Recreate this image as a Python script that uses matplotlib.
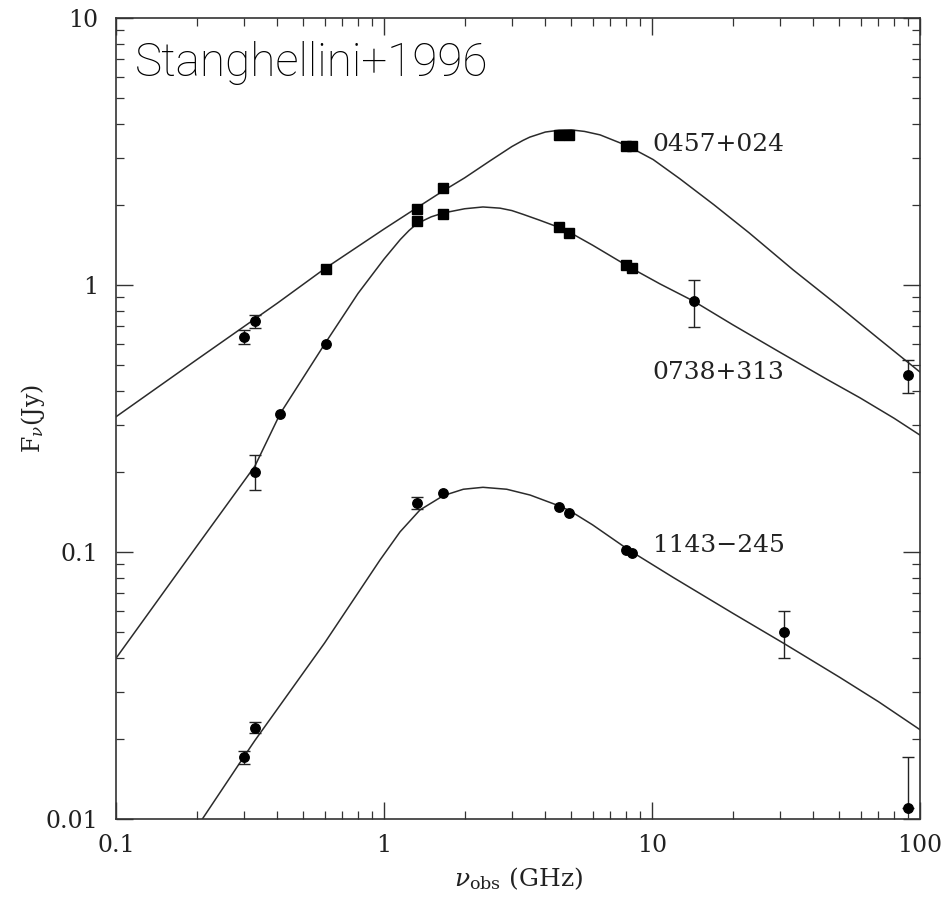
import matplotlib
matplotlib.use("Agg")
import matplotlib.pyplot as plt
from matplotlib.ticker import LogLocator, NullFormatter, FixedLocator, FixedFormatter
import numpy as np

# ---------------- data ----------------
# 0457+024
f0457 = [0.30, 0.33, 0.61, 1.33, 1.66, 4.5, 4.9, 8.0, 8.4, 90]
s0457 = [0.64, 0.73, 1.15, 1.93, 2.31, 3.65, 3.65, 3.33, 3.33, 0.46]
e0457 = [0.04, 0.04, 0.0, 0.0, 0.0, 0.0, 0.0, 0.0, 0.0, 0.065]
sq0457 = [False, False, True, True, True, True, True, True, True, False]

# 0738+313
f0738 = [0.33, 0.41, 0.61, 1.33, 1.66, 4.5, 4.9, 8.0, 8.4, 14.3]
s0738 = [0.20, 0.33, 0.60, 1.74, 1.85, 1.65, 1.57, 1.19, 1.16, 0.87]
e0738 = [0.03, 0.0, 0.0, 0.0, 0.0, 0.0, 0.0, 0.0, 0.0, 0.175]
sq0738 = [False, False, False, True, True, True, True, True, True, False]

# 1143-245
f1143 = [0.30, 0.33, 1.33, 1.66, 4.5, 4.9, 8.0, 8.4, 31, 90]
s1143 = [0.017, 0.022, 0.153, 0.166, 0.148, 0.140, 0.102, 0.099, 0.050, 0.011]
e1143_lo = [0.001, 0.001, 0.008, 0.0, 0.0, 0.0, 0.0, 0.0, 0.010, 0.0]
e1143_hi = [0.001, 0.001, 0.008, 0.0, 0.0, 0.0, 0.0, 0.0, 0.010, 0.006]

# fitted curves
cx0457 = [0.1, 0.2, 0.4, 0.6, 1.0, 1.33, 1.66, 2.0, 2.49, 3.0, 3.3, 3.5, 4.0, 4.5, 5.0,
          5.6, 6.4, 8.1, 10.1, 12.7, 17, 23, 33.6, 50, 70, 100]
cy0457 = [0.321, 0.525, 0.855, 1.15, 1.62, 1.95, 2.25, 2.52, 2.92, 3.30, 3.48, 3.58,
          3.74, 3.80, 3.81, 3.76, 3.65, 3.32, 2.95, 2.50, 2.00, 1.57, 1.14, 0.83, 0.63,
          0.472]

cx0738 = [0.1, 0.2, 0.33, 0.41, 0.6, 0.8, 1.0, 1.15, 1.24, 1.33, 1.5, 1.66, 2.0, 2.34,
          2.71, 3.0, 3.3, 3.8, 4.45, 4.9, 6.0, 8.2, 10.7, 14.3, 20, 30, 45, 59.7, 80, 100]
cy0738 = [0.040, 0.105, 0.21, 0.33, 0.60, 0.93, 1.25, 1.48, 1.60, 1.70, 1.80, 1.86,
          1.93, 1.96, 1.94, 1.90, 1.84, 1.75, 1.65, 1.58, 1.41, 1.17, 1.01, 0.87,
          0.71, 0.56, 0.443, 0.378, 0.317, 0.274]

cx1143 = [0.21, 0.3, 0.33, 0.6, 0.966, 1.148, 1.362, 1.665, 1.977, 2.34, 2.87, 3.51,
          4.41, 4.92, 6.0, 8.2, 12, 20, 31, 50, 70, 100]
cy1143 = [0.010, 0.0171, 0.0197, 0.0456, 0.0933, 0.119, 0.1437, 0.1626, 0.1718,
          0.1747, 0.1718, 0.1634, 0.150, 0.143, 0.1264, 0.1017, 0.0803, 0.059, 0.0455,
          0.034, 0.0275, 0.0216]

names = ["0457+024", "0738+313", "1143\u2212245"]
label_x = [10.0, 10.0, 10.1]
label_y = [3.35, 0.472, 0.106]

# ---------------- figure ----------------
plt.rcParams['mathtext.fontset'] = 'dejavuserif'
fig = plt.figure(figsize=(9.45, 8.97), dpi=100)
ax = fig.add_axes([116/945, 1-819/897, 804/945, 801/897])
ax.set_xscale('log')
ax.set_yscale('log')
ax.set_xlim(0.1, 100)
ax.set_ylim(0.01, 10)

lc = '#2b2b2b'
for cx, cy in [(cx0457, cy0457), (cx0738, cy0738), (cx1143, cy1143)]:
    ax.plot(cx, cy, color=lc, lw=1.1, zorder=2, solid_joinstyle='round')

def draw_points(f, s, elo, ehi, sq):
    f = np.asarray(f); s = np.asarray(s)
    elo = np.asarray(elo); ehi = np.asarray(ehi)
    has = (elo > 0) | (ehi > 0)
    if has.any():
        ax.errorbar(f[has], s[has], yerr=[elo[has], ehi[has]], fmt='none',
                    ecolor='#222222', elinewidth=1.0, capsize=4, capthick=1.0, zorder=3)
    sq = np.asarray(sq, dtype=bool)
    ax.plot(f[sq], s[sq], 's', color='black', ms=6.5, zorder=4)
    ax.plot(f[~sq], s[~sq], 'o', color='black', ms=6.8, zorder=4)

draw_points(f0457, s0457, e0457, e0457, sq0457)
draw_points(f0738, s0738, e0738, e0738, sq0738)
draw_points(f1143, s1143, e1143_lo, e1143_hi, [False]*len(f1143))

for n, lx, ly in zip(names, label_x, label_y):
    ax.text(lx, ly, n, fontsize=18, family='DejaVu Serif', color='#222222',
            ha='left', va='center')

# ticks
ax.xaxis.set_major_locator(FixedLocator([0.1, 1, 10, 100]))
ax.xaxis.set_major_formatter(FixedFormatter(['0.1', '1', '10', '100']))
ax.yaxis.set_major_locator(FixedLocator([0.01, 0.1, 1, 10]))
ax.yaxis.set_major_formatter(FixedFormatter(['0.01', '0.1', '1', '10']))
ax.xaxis.set_minor_locator(LogLocator(base=10, subs=np.arange(2, 10)))
ax.yaxis.set_minor_locator(LogLocator(base=10, subs=np.arange(2, 10)))
ax.xaxis.set_minor_formatter(NullFormatter())
ax.yaxis.set_minor_formatter(NullFormatter())
ax.tick_params(which='both', direction='in', top=True, right=True, color='#333333')
ax.tick_params(which='major', length=12, width=1.0, labelsize=17)
ax.tick_params(which='minor', length=6, width=0.9)
ax.tick_params(axis='x', which='major', pad=11)
ax.tick_params(axis='y', which='major', pad=13)
for lab in ax.get_xticklabels() + ax.get_yticklabels():
    lab.set_family('DejaVu Serif')
    lab.set_color('#222222')
for sp in ax.spines.values():
    sp.set_linewidth(1.2)
    sp.set_color('#333333')

ax.set_xlabel(r'$\nu_{\rm obs}$ (GHz)', fontsize=18, family='DejaVu Serif', color='#222222')
ax.xaxis.set_label_coords(0.5, -0.058)
ax.set_ylabel(r'F$_\nu$(Jy)', fontsize=17, family='DejaVu Serif', color='#222222')
ax.yaxis.set_label_coords(-0.086, 0.5)

ax.text(0.0236, 0.928, 'Stanghellini+1996', transform=ax.transAxes,
        fontsize=33, family='Roboto', fontweight='light', color='black',
        ha='left', va='baseline')

fig.savefig('out.png', dpi=100)
